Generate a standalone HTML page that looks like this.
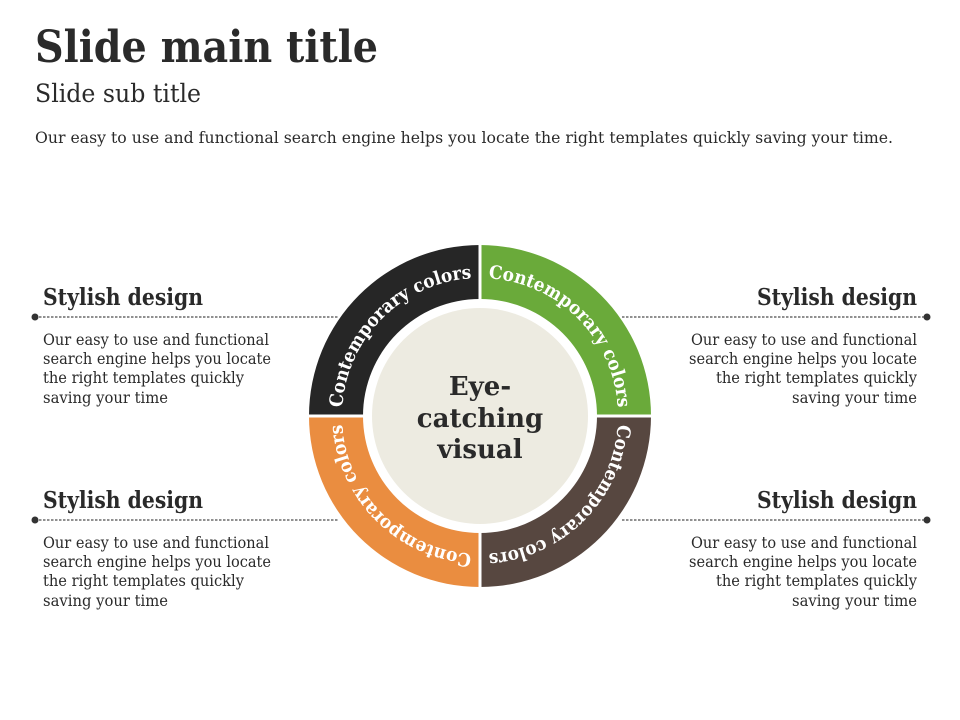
<!DOCTYPE html>
<html><head><meta charset="utf-8"><style>
html,body{margin:0;padding:0;background:#fff;width:960px;height:720px;overflow:hidden}
svg{display:block}
text{font-family:"DejaVu Serif","Liberation Serif",serif;fill:#2a2a2a}
.b{font-weight:bold}
</style></head><body>
<svg width="960" height="720" viewBox="0 0 960 720" xmlns="http://www.w3.org/2000/svg">
<text x="35" y="62" class="b" font-size="44" textLength="343" lengthAdjust="spacingAndGlyphs" fill="#111">Slide main title</text>
<text x="35" y="102" font-size="25" textLength="166" lengthAdjust="spacingAndGlyphs">Slide sub title</text>
<text x="35" y="143" font-size="16" textLength="858" lengthAdjust="spacingAndGlyphs">Our easy to use and functional search engine  helps you locate the right templates quickly saving your time.</text>

<g>
<text x="43" y="305" class="b" font-size="23" textLength="160" lengthAdjust="spacingAndGlyphs">Stylish design</text>
<line x1="35" y1="317" x2="338" y2="317" stroke="#222" stroke-width="1" stroke-dasharray="2.5,1.5"/>
<circle cx="35" cy="317" r="3.5" fill="#333"/>
<text font-size="15.5" fill="#333"><tspan x="43" y="345" textLength="226" lengthAdjust="spacingAndGlyphs">Our easy to use and functional</tspan><tspan x="43" y="364" textLength="228" lengthAdjust="spacingAndGlyphs">search engine helps you locate</tspan><tspan x="43" y="383" textLength="201" lengthAdjust="spacingAndGlyphs">the right templates quickly</tspan><tspan x="43" y="403" textLength="125" lengthAdjust="spacingAndGlyphs">saving your time</tspan></text>
</g>
<g transform="translate(0,203)">
<text x="43" y="305" class="b" font-size="23" textLength="160" lengthAdjust="spacingAndGlyphs">Stylish design</text>
<line x1="35" y1="317" x2="338" y2="317" stroke="#222" stroke-width="1" stroke-dasharray="2.5,1.5"/>
<circle cx="35" cy="317" r="3.5" fill="#333"/>
<text font-size="15.5" fill="#333"><tspan x="43" y="345" textLength="226" lengthAdjust="spacingAndGlyphs">Our easy to use and functional</tspan><tspan x="43" y="364" textLength="228" lengthAdjust="spacingAndGlyphs">search engine helps you locate</tspan><tspan x="43" y="383" textLength="201" lengthAdjust="spacingAndGlyphs">the right templates quickly</tspan><tspan x="43" y="403" textLength="125" lengthAdjust="spacingAndGlyphs">saving your time</tspan></text>
</g>
<g>
<text x="917" y="305" class="b" font-size="23" text-anchor="end" textLength="160" lengthAdjust="spacingAndGlyphs">Stylish design</text>
<line x1="622" y1="317" x2="927" y2="317" stroke="#222" stroke-width="1" stroke-dasharray="2.5,1.5"/>
<circle cx="927" cy="317" r="3.5" fill="#333"/>
<text font-size="15.5" fill="#333" text-anchor="end"><tspan x="917" y="345" textLength="226" lengthAdjust="spacingAndGlyphs">Our easy to use and functional</tspan><tspan x="917" y="364" textLength="228" lengthAdjust="spacingAndGlyphs">search engine helps you locate</tspan><tspan x="917" y="383" textLength="201" lengthAdjust="spacingAndGlyphs">the right templates quickly</tspan><tspan x="917" y="403" textLength="125" lengthAdjust="spacingAndGlyphs">saving your time</tspan></text>
</g>
<g transform="translate(0,203)">
<text x="917" y="305" class="b" font-size="23" text-anchor="end" textLength="160" lengthAdjust="spacingAndGlyphs">Stylish design</text>
<line x1="622" y1="317" x2="927" y2="317" stroke="#222" stroke-width="1" stroke-dasharray="2.5,1.5"/>
<circle cx="927" cy="317" r="3.5" fill="#333"/>
<text font-size="15.5" fill="#333" text-anchor="end"><tspan x="917" y="345" textLength="226" lengthAdjust="spacingAndGlyphs">Our easy to use and functional</tspan><tspan x="917" y="364" textLength="228" lengthAdjust="spacingAndGlyphs">search engine helps you locate</tspan><tspan x="917" y="383" textLength="201" lengthAdjust="spacingAndGlyphs">the right templates quickly</tspan><tspan x="917" y="403" textLength="125" lengthAdjust="spacingAndGlyphs">saving your time</tspan></text>
</g>

<defs>
<path id="q1" d="M 342 416 A 138 138 0 0 1 480 278"/>
<path id="q2" d="M 480 278 A 138 138 0 0 1 618 416"/>
<path id="q3" d="M 618 416 A 138 138 0 0 1 480 554"/>
<path id="q4" d="M 480 554 A 138 138 0 0 1 342 416"/>
</defs>
<path d="M 309 416 A 171 171 0 0 1 480 245 L 480 299 A 117 117 0 0 0 363 416 Z" fill="#262626"/>
<path d="M 480 245 A 171 171 0 0 1 651 416 L 597 416 A 117 117 0 0 0 480 299 Z" fill="#6aaa3a"/>
<path d="M 651 416 A 171 171 0 0 1 480 587 L 480 533 A 117 117 0 0 0 597 416 Z" fill="#574740"/>
<path d="M 480 587 A 171 171 0 0 1 309 416 L 363 416 A 117 117 0 0 0 480 533 Z" fill="#ea8d40"/>
<line x1="480" y1="240" x2="480" y2="592" stroke="#fff" stroke-width="3"/>
<line x1="304" y1="416" x2="656" y2="416" stroke="#fff" stroke-width="3"/>
<circle cx="480" cy="416" r="108" fill="#edebe1"/>
<g class="b" font-size="18.5">
<text style="fill:#fff" textLength="200" lengthAdjust="spacingAndGlyphs"><textPath href="#q1" startOffset="50%" text-anchor="middle" textLength="200" lengthAdjust="spacingAndGlyphs">Contemporary colors</textPath></text>
<text style="fill:#fff"><textPath href="#q2" startOffset="50%" text-anchor="middle" textLength="200" lengthAdjust="spacingAndGlyphs">Contemporary colors</textPath></text>
<text style="fill:#fff"><textPath href="#q3" startOffset="50%" text-anchor="middle" textLength="200" lengthAdjust="spacingAndGlyphs">Contemporary colors</textPath></text>
<text style="fill:#fff"><textPath href="#q4" startOffset="50%" text-anchor="middle" textLength="200" lengthAdjust="spacingAndGlyphs">Contemporary colors</textPath></text>
</g>
<g class="b" font-size="26" text-anchor="middle">
<text x="480" y="395">Eye-</text>
<text x="480" y="427">catching</text>
<text x="480" y="458">visual</text>
</g>
</svg>
</body></html>
